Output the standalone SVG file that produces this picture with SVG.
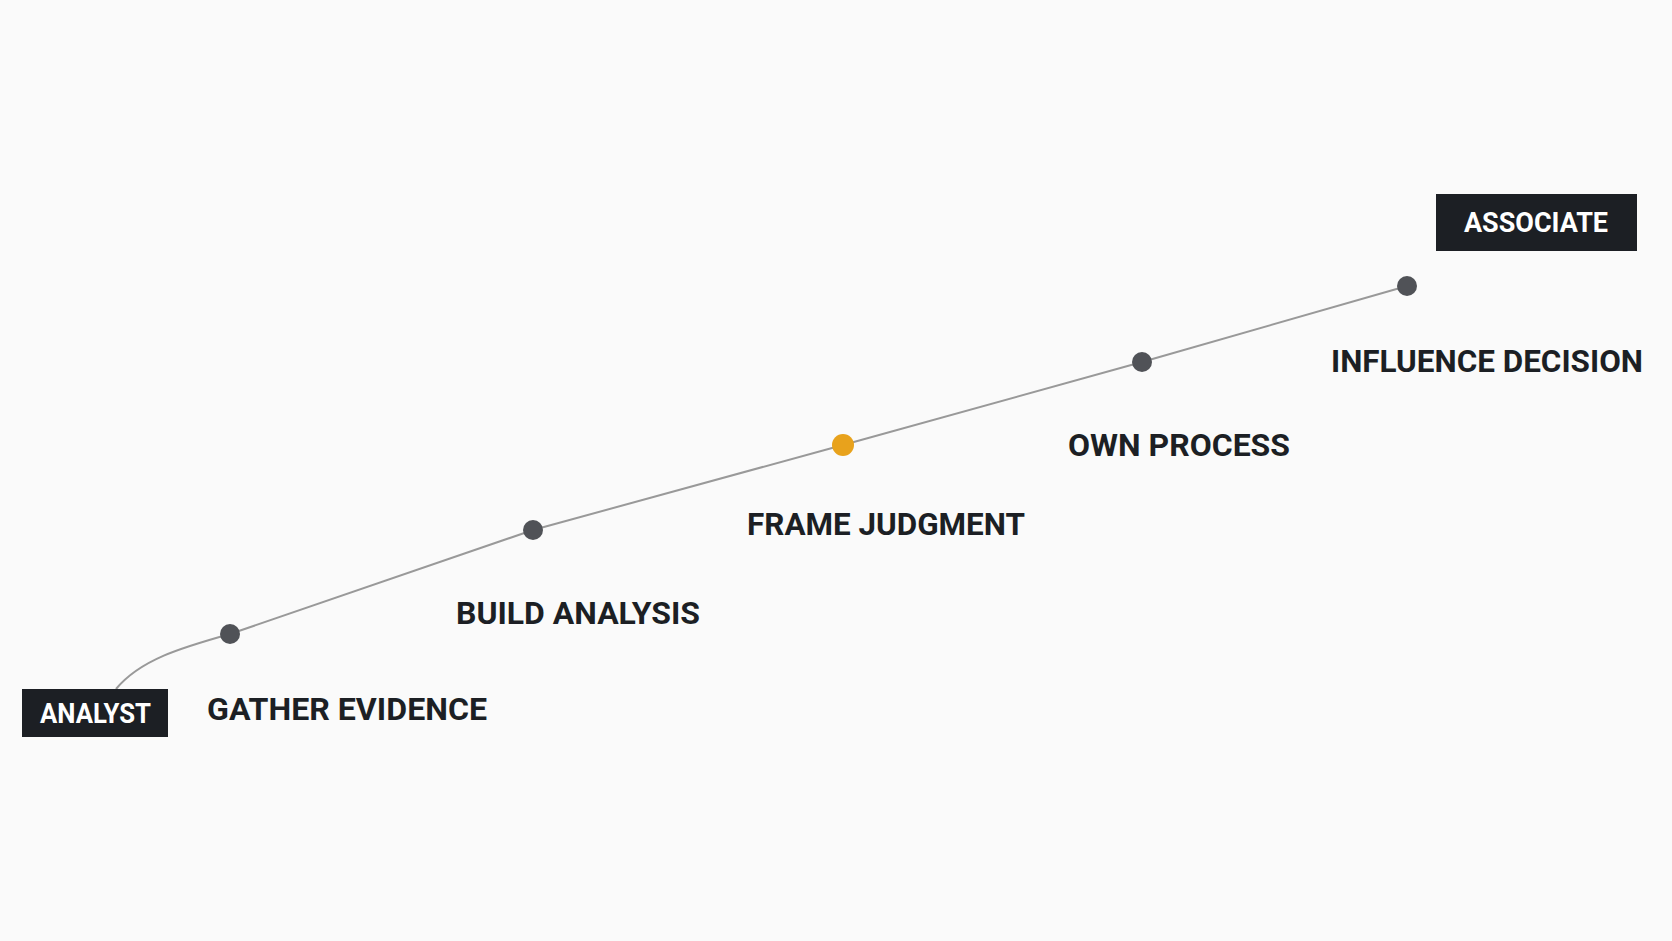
<svg xmlns="http://www.w3.org/2000/svg" width="1672" height="941" viewBox="0 0 1672 941">
<style>
.lbl{font-family:Roboto,"Liberation Sans",sans-serif;font-weight:700;font-size:32px;fill:#1c1f24}
.tag{font-family:Roboto,"Liberation Sans",sans-serif;font-weight:700;font-size:28px;fill:#fff}
.box{fill:#1c1f24}
.dot{fill:#505257}
.line{fill:none;stroke:#999;stroke-width:2}
</style>
<rect width="1672" height="941" fill="#fafafa"/>
<g id="connectors">
<path class="line" d="M116,689 C140,660 180,648 230,634 L533,530 L843,445 L1142,362 L1407,286"/>
</g>
<g id="analyst"><rect class="box" x="22" y="689" width="146" height="48"/><text class="tag" x="40" y="723" textLength="111" lengthAdjust="spacingAndGlyphs">ANALYST</text></g>
<g id="associate"><rect class="box" x="1436" y="194" width="201" height="57"/><text class="tag" x="1464" y="232" textLength="144" lengthAdjust="spacingAndGlyphs">ASSOCIATE</text></g>
<g id="gather"><circle class="dot" cx="230" cy="634" r="10"/><text class="lbl" x="207" y="720" textLength="280" lengthAdjust="spacingAndGlyphs">GATHER EVIDENCE</text></g>
<g id="build"><circle class="dot" cx="533" cy="530" r="10"/><text class="lbl" x="456" y="624" textLength="244" lengthAdjust="spacingAndGlyphs">BUILD ANALYSIS</text></g>
<g id="frame"><circle cx="843" cy="445" r="11" fill="#e8a21c"/><text class="lbl" x="747" y="535" textLength="278" lengthAdjust="spacingAndGlyphs">FRAME JUDGMENT</text></g>
<g id="own"><circle class="dot" cx="1142" cy="362" r="10"/><text class="lbl" x="1068" y="456" textLength="222" lengthAdjust="spacingAndGlyphs">OWN PROCESS</text></g>
<g id="influence"><circle class="dot" cx="1407" cy="286" r="10"/><text class="lbl" x="1331" y="372" textLength="312" lengthAdjust="spacingAndGlyphs">INFLUENCE DECISION</text></g>
</svg>
